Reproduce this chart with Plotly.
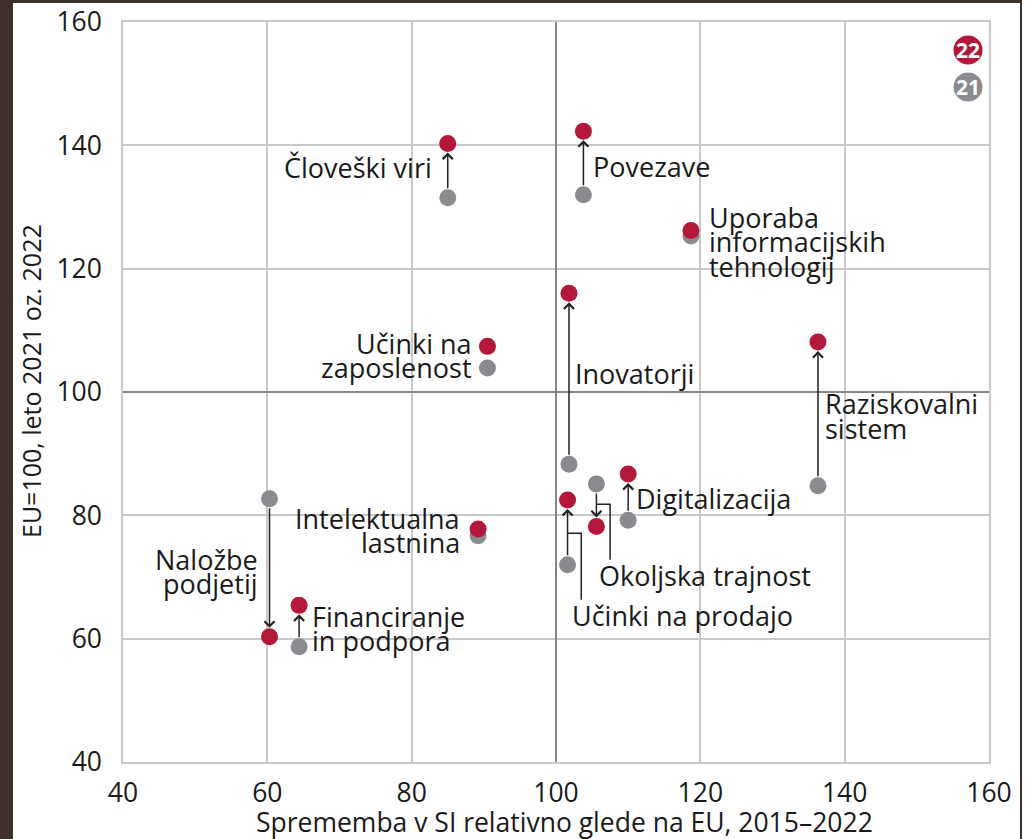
import plotly.graph_objects as go

# data: x = change vs EU 2015-2022, y = index (EU=100) 2021 and 2022
kategorije = ['Človeški viri', 'Povezave', 'Uporaba informacijskih tehnologij', 'Inovatorji',
              'Raziskovalni sistem', 'Učinki na zaposlenost', 'Naložbe podjetij',
              'Financiranje in podpora', 'Intelektualna lastnina', 'Učinki na prodajo',
              'Okoljska trajnost', 'Digitalizacija']
sprememba = [85.0, 103.8, 118.7, 101.8, 136.3, 90.5, 60.3, 64.4, 89.2, 101.6, 105.6, 110.0]
leto_2021 = [131.5, 132.0, 125.3, 88.3, 84.8, 103.9, 82.7, 58.7, 76.7, 72.0, 85.1, 79.2]
leto_2022 = [140.3, 142.3, 126.2, 116.0, 108.1, 107.4, 60.3, 65.4, 77.8, 82.5, 78.2, 86.7]

# label text lines, anchor x, y of first line, horizontal alignment
oznake = [
    (['Človeški viri'], 83.1, 136.4, 'right'),
    (['Povezave'], 104.8, 136.6, 'left'),
    (['Uporaba', 'informacijskih', 'tehnologij'], 120.9, 128.3, 'left'),
    (['Učinki na', 'zaposlenost'], 88.7, 107.9, 'right'),
    (['Inovatorji'], 102.4, 103.0, 'left'),
    (['Raziskovalni', 'sistem'], 137.0, 98.1, 'left'),
    (['Intelektualna', 'lastnina'], 87.0, 79.5, 'right'),
    (['Naložbe', 'podjetij'], 59.0, 72.9, 'right'),
    (['Financiranje', 'in podpora'], 65.9, 63.6, 'left'),
    (['Digitalizacija'], 110.8, 82.7, 'left'),
    (['Okoljska trajnost'], 105.7, 70.3, 'left'),
    (['Učinki na prodajo'], 102.0, 63.8, 'left'),
]
# elbow leader lines for the crowded labels
vodila = [
    ([101.6, 103.5, 103.5], [77.1, 77.1, 66.3]),
    ([105.6, 107.5, 107.5], [81.8, 81.8, 72.8]),
]

RDECA = '#b3173a'
SIVA = '#8a8b8e'
RJAVA = '#3d302b'
FONT = 'Open Sans'

W, H = 1034, 839
L, R, T, B = 123, 45, 22, 77


def px(x):
    return (x - L) / (W - L - R)


def py(y):
    return 1 - (y - T) / (H - T - B)


fig = go.Figure()

# EU average reference lines
fig.add_trace(go.Scatter(x=[100, 100], y=[40, 160], mode='lines', line=dict(color='#6f6f6f', width=1.5),
                         hoverinfo='skip', showlegend=False))
fig.add_trace(go.Scatter(x=[40, 160], y=[100, 100], mode='lines', line=dict(color='#6f6f6f', width=1.5),
                         hoverinfo='skip', showlegend=False))

for xs, ys in vodila:
    fig.add_trace(go.Scatter(x=xs, y=ys, mode='lines', line=dict(color='#222', width=1.5),
                             hoverinfo='skip', showlegend=False))

fig.add_trace(go.Scatter(x=sprememba, y=leto_2021, mode='markers', name='2021',
                         marker=dict(size=17, color=SIVA), text=kategorije, showlegend=False))
fig.add_trace(go.Scatter(x=sprememba, y=leto_2022, mode='markers', name='2022',
                         marker=dict(size=17, color=RDECA), text=kategorije, showlegend=False))

annotations = []
for x, y0, y1 in zip(sprememba, leto_2021, leto_2022):
    if abs(y1 - y0) < 2:
        continue
    annotations.append(dict(x=x, y=y1, ax=x, ay=y0, xref='x', yref='y', axref='x', ayref='y',
                            text='', showarrow=True, arrowhead=4, arrowsize=1.3, arrowwidth=1.5,
                            arrowcolor='#222', standoff=9, startstandoff=8))

for vrstice, x, y, poravnava in oznake:
    for i, t in enumerate(vrstice):
        annotations.append(dict(x=x, y=y, xref='x', yref='y', text=t, showarrow=False,
                                xanchor=poravnava, yanchor='middle', yshift=-24.5 * i,
                                font=dict(family=FONT, size=27, color='#1a1a1a')))

# axis titles
annotations.append(dict(x=px(564), y=py(822), xref='paper', yref='paper', showarrow=False,
                        xanchor='center', yanchor='middle',
                        text='Sprememba v SI relativno glede na EU, 2015–2022',
                        font=dict(family=FONT, size=26.5, color='#1a1a1a')))
annotations.append(dict(x=px(31), y=py(381), xref='paper', yref='paper', showarrow=False, textangle=-90,
                        xanchor='center', yanchor='middle',
                        text='EU=100, leto 2021 oz. 2022',
                        font=dict(family=FONT, size=25, color='#1a1a1a')))

shapes = []
# legend badges
for oznaka, barva, yc in [('22', RDECA, 50), ('21', SIVA, 87)]:
    shapes.append(dict(type='circle', xref='paper', yref='paper', x0=px(953.5), x1=px(982.5),
                       y0=py(yc + 14.5), y1=py(yc - 14.5), fillcolor=barva, line=dict(width=0), layer='below'))
    annotations.append(dict(x=px(968), y=py(yc), xref='paper', yref='paper', text='<b>' + oznaka + '</b>',
                            xanchor='center', yanchor='middle',
                            showarrow=False, font=dict(family=FONT, size=21, color='white')))
# page frame
shapes.append(dict(type='rect', xref='paper', yref='paper', x0=px(0), x1=px(13), y0=py(H), y1=py(0),
                   fillcolor=RJAVA, line=dict(width=0)))
shapes.append(dict(type='rect', xref='paper', yref='paper', x0=px(0), x1=px(1022), y0=py(3), y1=py(0),
                   fillcolor=RJAVA, line=dict(width=0)))
shapes.append(dict(type='line', xref='paper', yref='paper', x0=px(1021), x1=px(1021), y0=py(H), y1=py(0),
                   line=dict(color=RJAVA, width=2)))

fig.update_layout(
    width=W, height=H,
    margin=dict(l=L, r=R, t=T, b=B, autoexpand=False),
    paper_bgcolor='white', plot_bgcolor='white',
    font=dict(family=FONT, color='#1a1a1a'),
    annotations=annotations,
    shapes=shapes,
    xaxis=dict(range=[40, 160], dtick=20, showgrid=True, gridcolor='#c9c9cb', gridwidth=1.5,
               showline=True, linecolor='#c9c9cb', linewidth=1.5, mirror=True,
               zeroline=False, ticks='', ticklabelstandoff=6, automargin=False,
               tickfont=dict(size=26.5)),
    yaxis=dict(range=[40, 160], dtick=20, showgrid=True, gridcolor='#c9c9cb', gridwidth=1.5,
               showline=True, linecolor='#c9c9cb', linewidth=1.5, mirror=True,
               zeroline=False, ticks='', ticklabelstandoff=14, automargin=False,
               tickfont=dict(size=26.5)),
)

fig.write_html('out.html', config={'displayModeBar': False},
               post_script="document.body.style.margin='0';")
